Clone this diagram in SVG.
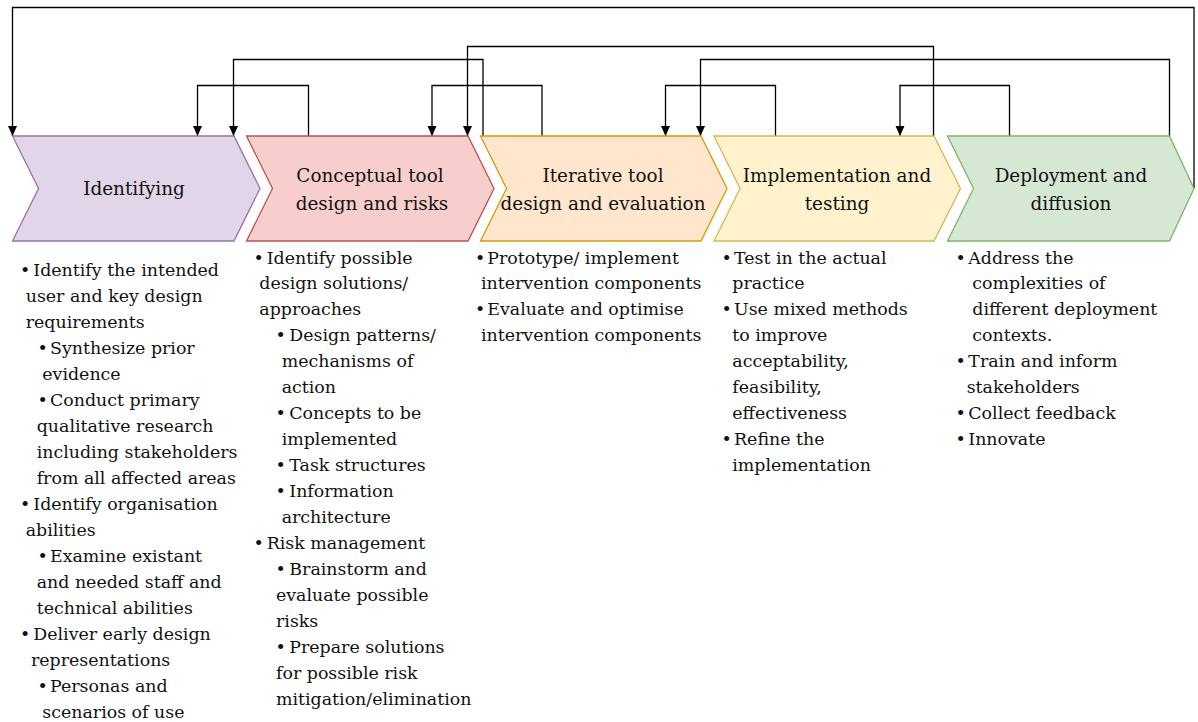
<svg xmlns="http://www.w3.org/2000/svg" width="1198" height="722" viewBox="0 0 1198 722">
  <style>
    .title { font-family: 'DejaVu Serif', 'Liberation Serif', serif; font-size: 18.4px; fill: #111; text-anchor: middle; }
    .item { font-family: 'DejaVu Serif', 'Liberation Serif', serif; font-size: 17.4px; fill: #111; }
    .link { fill: none; stroke: #000; stroke-width: 1.3; marker-end: url(#head); }
    .stage { stroke-width: 1.3; }
  </style>
  <defs>
    <marker id="head" markerUnits="userSpaceOnUse" markerWidth="10" markerHeight="10" refX="10" refY="5" orient="auto">
      <path d="M0,0.5 L10,5 L0,9.5 Z" fill="#000"/>
    </marker>
  </defs>
  <rect width="1198" height="722" fill="#fff"/>

  <!-- feedback connectors between stages -->
  <g id="connectors">
    <path class="link" d="M1194,188.5 V7.5 H12.5 V136"/>
    <path class="link" d="M933.5,136 V46.5 H467.5 V136"/>
    <path class="link" d="M483,136 V59.5 H233.5 V136"/>
    <path class="link" d="M1169.5,136 V59.5 H700.5 V136"/>
    <path class="link" d="M308.5,136 V85.5 H197.5 V136"/>
    <path class="link" d="M542,136 V85.5 H432 V136"/>
    <path class="link" d="M775.5,136 V85.5 H665.5 V136"/>
    <path class="link" d="M1009.5,136 V85.5 H900 V136"/>
  </g>

  <!-- stage 1 -->
  <g id="identifying">
    <polygon class="stage" points="12.5,136 234,136 260,188.5 234,241 12.5,241 38.5,188.5" fill="#e1d5e7" stroke="#9673a6"/>
    <text class="title" x="134" y="195">Identifying</text>
    <g class="item">
      <text x="20" y="276">•<tspan x="33.3">Identify the intended</tspan></text>
      <text x="25.7" y="302">user and key design</text>
      <text x="25.7" y="328">requirements</text>
      <text x="37.5" y="354">•<tspan x="50">Synthesize prior</tspan></text>
      <text x="42.3" y="380">evidence</text>
      <text x="37.5" y="406">•<tspan x="50">Conduct primary</tspan></text>
      <text x="36.7" y="432">qualitative research</text>
      <text x="36.7" y="458">including stakeholders</text>
      <text x="36.7" y="484">from all affected areas</text>
      <text x="20" y="510">•<tspan x="33.3">Identify organisation</tspan></text>
      <text x="25.7" y="536">abilities</text>
      <text x="37.5" y="562">•<tspan x="50">Examine existant</tspan></text>
      <text x="36.7" y="588">and needed staff and</text>
      <text x="36.7" y="614">technical abilities</text>
      <text x="20" y="640">•<tspan x="33.3">Deliver early design</tspan></text>
      <text x="31" y="666">representations</text>
      <text x="37.5" y="692">•<tspan x="50">Personas and</tspan></text>
      <text x="42.3" y="718">scenarios of use</text>
    </g>
  </g>

  <!-- stage 2 -->
  <g id="conceptual">
    <polygon class="stage" points="246.5,136 468,136 494,188.5 468,241 246.5,241 272.5,188.5" fill="#f8cecc" stroke="#b85450"/>
    <text class="title" x="370" y="181.5">Conceptual tool</text>
    <text class="title" x="372" y="209.5">design and risks</text>
    <g class="item">
      <text x="253.5" y="263.5">•<tspan x="266.7">Identify possible</tspan></text>
      <text x="259.3" y="289">design solutions/</text>
      <text x="259.3" y="315">approaches</text>
      <text x="275.5" y="341">•<tspan x="289.3">Design patterns/</tspan></text>
      <text x="281.7" y="367">mechanisms of</text>
      <text x="281.7" y="393">action</text>
      <text x="275.5" y="419">•<tspan x="289.3">Concepts to be</tspan></text>
      <text x="281.7" y="445">implemented</text>
      <text x="275.5" y="471">•<tspan x="289.3">Task structures</tspan></text>
      <text x="275.5" y="497">•<tspan x="289.3">Information</tspan></text>
      <text x="281.7" y="523">architecture</text>
      <text x="253.5" y="549">•<tspan x="266.7">Risk management</tspan></text>
      <text x="275.5" y="575">•<tspan x="289.3">Brainstorm and</tspan></text>
      <text x="276" y="601">evaluate possible</text>
      <text x="276" y="627">risks</text>
      <text x="275.5" y="653">•<tspan x="289.3">Prepare solutions</tspan></text>
      <text x="276" y="679">for possible risk</text>
      <text x="276" y="705">mitigation/elimination</text>
    </g>
  </g>

  <!-- stage 3 -->
  <g id="iterative">
    <polygon class="stage" points="480.5,136 701,136 727,188.5 701,241 480.5,241 506.5,188.5" fill="#ffe6cc" stroke="#d79b00"/>
    <text class="title" x="603" y="181.5">Iterative tool</text>
    <text class="title" x="603" y="209.5">design and evaluation</text>
    <g class="item">
      <text x="475" y="263.5">•<tspan x="487.3">Prototype/ implement</tspan></text>
      <text x="481" y="289">intervention components</text>
      <text x="475" y="315">•<tspan x="487.3">Evaluate and optimise</tspan></text>
      <text x="481" y="341">intervention components</text>
    </g>
  </g>

  <!-- stage 4 -->
  <g id="implementation">
    <polygon class="stage" points="714,136 934,136 960.5,188.5 934,241 714,241 740,188.5" fill="#fff2cc" stroke="#d6b656"/>
    <text class="title" x="837" y="181.5">Implementation and</text>
    <text class="title" x="837" y="209.5">testing</text>
    <g class="item">
      <text x="721.5" y="263.5">•<tspan x="734">Test in the actual</tspan></text>
      <text x="732.3" y="289">practice</text>
      <text x="721.5" y="315">•<tspan x="734">Use mixed methods</tspan></text>
      <text x="732.3" y="341">to improve</text>
      <text x="732.3" y="367">acceptability,</text>
      <text x="732.3" y="393">feasibility,</text>
      <text x="732.3" y="419">effectiveness</text>
      <text x="721.5" y="445">•<tspan x="734">Refine the</tspan></text>
      <text x="732.3" y="471">implementation</text>
    </g>
  </g>

  <!-- stage 5 -->
  <g id="deployment">
    <polygon class="stage" points="947.5,136 1169.5,136 1194,188.5 1169.5,241 947.5,241 973.5,188.5" fill="#d5e8d4" stroke="#82b366"/>
    <text class="title" x="1071" y="181.5">Deployment and</text>
    <text class="title" x="1071" y="209.5">diffusion</text>
    <g class="item">
      <text x="955.5" y="263.5">•<tspan x="968.3">Address the</tspan></text>
      <text x="972.3" y="289">complexities of</text>
      <text x="972.3" y="315">different deployment</text>
      <text x="972.3" y="341">contexts.</text>
      <text x="955.5" y="367">•<tspan x="968.3">Train and inform</tspan></text>
      <text x="966.7" y="393">stakeholders</text>
      <text x="955.5" y="419">•<tspan x="968.3">Collect feedback</tspan></text>
      <text x="955.5" y="445">•<tspan x="968.3">Innovate</tspan></text>
    </g>
  </g>
</svg>
